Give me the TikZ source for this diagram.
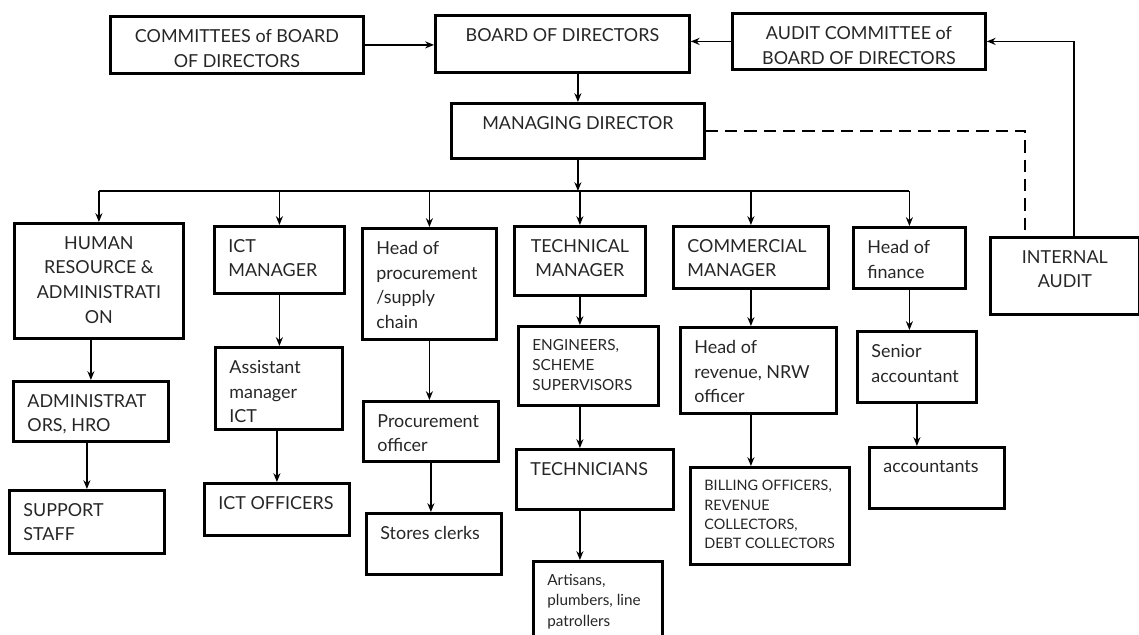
\documentclass[tikz,border=0pt]{standalone}
\usepackage{fontspec}
\setmainfont{Lato}
\usetikzlibrary{arrows.meta}

\newlength\px
\setlength\px{0.02cm}
% box text: width, height (in px of the sheet), text
\newcommand\boxtxt[3]{\parbox[t][\dimexpr#2\px-26\px\relax][t]{\dimexpr#1\px-28\px\relax}{\raggedright\hyphenpenalty=10000 #3}}

\begin{document}
\begin{tikzpicture}[x=0.02cm, y=-0.02cm, >={Stealth[length=5pt,width=4pt]}, every node/.style={font=\fontsize{10.2}{14}\selectfont, text=black!85}]
% styles
\tikzstyle{unit}=[rectangle,draw,line width=1.6pt,anchor=north west,inner xsep=0.28cm,inner ysep=0.26cm]
\tikzstyle{smalltext}=[font=\fontsize{8.7}{11.5}\selectfont]
\tikzstyle{finetext}=[font=\fontsize{8.2}{11}\selectfont]
\tikzstyle{link}=[line width=0.9pt]

\useasboundingbox (0,0) rectangle (1139,635);

% board level
\node[unit] (com) at (109,15) {\boxtxt{253}{57}{\centering COMMITTEES of BOARD\\OF DIRECTORS}};
\node[unit] (bod) at (434,14) {\boxtxt{254}{57}{\centering BOARD OF DIRECTORS}};
\node[unit] (aud) at (731,12) {\boxtxt{253}{56}{\centering AUDIT COMMITTEE of\\BOARD OF DIRECTORS}};
\node[unit] (md) at (450,102) {\boxtxt{253}{55}{\centering MANAGING DIRECTOR}};

% departments
\node[unit] (hr) at (13,222) {\boxtxt{169}{115}{\centering HUMAN\\RESOURCE \&\\ADMINISTRATI\\ON}};
\node[unit] (ict) at (213,225) {\boxtxt{130}{67}{ICT\\MANAGER}};
\node[unit] (proc) at (361,227) {\boxtxt{134}{111}{Head of\\procurement\\/supply\\chain}};
\node[unit] (tech) at (513,225) {\boxtxt{131}{69}{\centering TECHNICAL\\MANAGER}};
\node[unit] (comm) at (672,225) {\boxtxt{155}{62}{COMMERCIAL\\MANAGER}};
\node[unit] (fin) at (852,226) {\boxtxt{112}{61}{Head of\\finance}};
\node[unit] (ia) at (989,236) {\boxtxt{149}{77}{\centering INTERNAL\\AUDIT}};

% second level
\node[unit] (adm) at (12,380) {\boxtxt{155}{60}{ADMINISTRAT\\ORS, HRO}};
\node[unit] (asst) at (214,346) {\boxtxt{127}{82}{Assistant\\manager\\ICT}};
\node[unit] (pofc) at (362,400) {\boxtxt{135}{60}{Procurement\\officer}};
\node[unit,smalltext] (eng) at (517,325) {\boxtxt{140}{79}{ENGINEERS,\\SCHEME\\SUPERVISORS}};
\node[unit] (rev) at (679,326) {\boxtxt{156}{86}{Head of\\revenue, NRW\\officer}};
\node[unit] (sen) at (856,330) {\boxtxt{119}{71}{Senior\\accountant}};

% third level
\node[unit] (sup) at (8,489) {\boxtxt{155}{63}{SUPPORT\\STAFF}};
\node[unit] (icto) at (203,482) {\boxtxt{145}{52}{ICT OFFICERS}};
\node[unit] (store) at (365,512) {\boxtxt{135}{61}{Stores clerks}};
\node[unit] (techn) at (515,448) {\boxtxt{157}{60}{TECHNICIANS}};
\node[unit,finetext] (bill) at (689,466) {\boxtxt{159}{97}{BILLING OFFICERS,\\REVENUE\\COLLECTORS,\\DEBT COLLECTORS}};
\node[unit] (acc) at (868,446) {\boxtxt{135}{61}{accountants}};
\node[unit,smalltext] (art) at (532,560) {\boxtxt{129}{85}{Artisans,\\plumbers, line\\patrollers}};

% board arrows
\draw[link,->] (com.east) -- (com.east -| bod.west);
\draw[link,->] (aud.west) -- (aud.west -| bod.east);
\draw[link,->] (bod.south -| md.north) -- (md.north);

% bus to departments
\coordinate (bus) at (578,191);
\draw[link,->] (md.south) -- (md.south |- bus);
\draw[link] (hr.north |- bus) -- (fin.north |- bus);
\foreach \n in {hr,ict,proc,tech,comm,fin}
  \draw[link,->] (\n.north |- bus) -- (\n.north);

% down the columns
\draw[link,->] (hr.south -| adm.north) -- (adm.north);
\draw[link,->] (adm.south -| sup.north) -- (sup.north);
\draw[link,->] (ict.south) -- (ict.south |- asst.north);
\draw[link,->] (asst.south -| icto.north) -- (icto.north);
\draw[link,->] (proc.south) -- (proc.south |- pofc.north);
\draw[link,->] (pofc.south) -- (pofc.south |- store.north);
\draw[link,->] (tech.south) -- (tech.south |- eng.north);
\draw[link,->] (eng.south -| tech.south) -- (techn.north -| tech.south);
\draw[link,->] (techn.south -| tech.south) -- (art.north -| tech.south);
\draw[link,->] (comm.south) -- (comm.south |- rev.north);
\draw[link,->] (rev.south -| comm.south) -- (bill.north -| comm.south);
\draw[link,->] (fin.south) -- (fin.south |- sen.north);
\draw[link,->] (sen.south) -- (sen.south |- acc.north);

% internal audit
\draw[link,line width=1.1pt,dash pattern=on 7pt off 4pt] (md.east) -| ([xshift=-0.8cm]ia.north);
\draw[link,->] ([xshift=0.18cm]ia.north) |- (aud.east);

\end{tikzpicture}
\end{document}
